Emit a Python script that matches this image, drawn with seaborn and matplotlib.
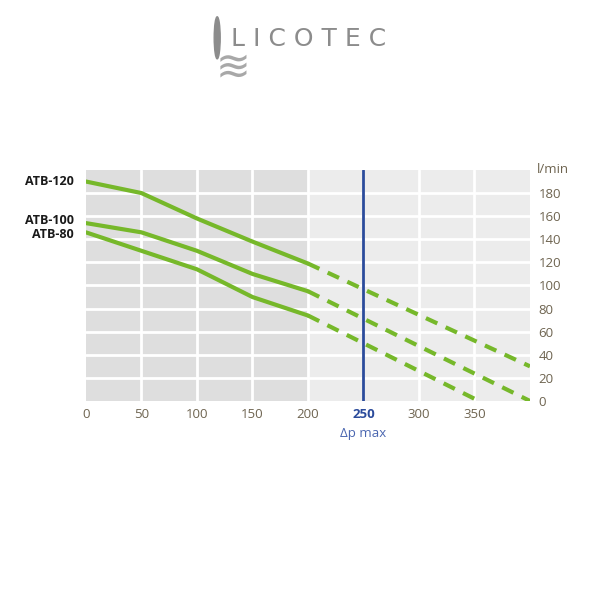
import numpy as np
import pandas as pd
import matplotlib
matplotlib.use('Agg')
import matplotlib.pyplot as plt
import seaborn as sns
from matplotlib.patches import Ellipse

# data
dp_measured = [0, 50, 100, 150, 200]
atb120 = [190, 180, 158, 138, 119]
atb100 = [154, 146, 130, 110, 95]
atb80 = [146, 130, 114, 90, 74]

dp_extrap = [200, 400]
atb120_ext = [119, 30]
atb100_ext = [95, 0]
dp80_extrap = [200, 354]
atb80_ext = [74, 0]

series_names = ['ATB-120', 'ATB-100', 'ATB-80']
label_y = [190, 156, 144]

x_ticks = [0, 50, 100, 150, 200, 250, 300, 350]
y_ticks = [0, 20, 40, 60, 80, 100, 120, 140, 160, 180]
dp_max = 250

green = '#76b82a'
blue = '#2b4b9b'
tick_col = '#6e6450'

sns.set_theme(style='white')
plt.rcParams['font.family'] = ['Open Sans', 'DejaVu Sans']

fig = plt.figure(figsize=(6, 6), dpi=100)
fig.patch.set_facecolor('white')
ax = fig.add_axes([0.1433, 0.3317, 0.74, 0.385])

# backgrounds: measured range darker, extrapolated range lighter
ax.axvspan(0, 200, color='#dedede', zorder=0, lw=0)
ax.axvspan(200, 400, color='#ececec', zorder=0, lw=0)
for xv in range(50, 400, 50):
    ax.axvline(xv, color='white', lw=2, zorder=1)
for yv in range(20, 200, 20):
    ax.axhline(yv, color='white', lw=2, zorder=1)

solid = pd.DataFrame({
    'dp': dp_measured * 3,
    'flow': atb120 + atb100 + atb80,
    'model': sum([[n] * len(dp_measured) for n in series_names], []),
})
sns.lineplot(data=solid, x='dp', y='flow', units='model', estimator=None,
             color=green, lw=3, ax=ax, zorder=3, legend=False)

for xs, ys in [(dp_extrap, atb120_ext), (dp_extrap, atb100_ext), (dp80_extrap, atb80_ext)]:
    sns.lineplot(x=xs, y=ys, color=green, lw=3, ax=ax, zorder=3,
                 linestyle=(0, (3, 2.2)))

ax.axvline(dp_max, color=blue, lw=2, zorder=4)

ax.set_xlim(0, 400)
ax.set_ylim(0, 200)
ax.set_xlabel('')
ax.set_ylabel('')
for s in ax.spines.values():
    s.set_visible(False)

ax.set_xticks(x_ticks)
ax.set_xticklabels([str(v) for v in x_ticks])
ax.tick_params(axis='x', length=0, labelsize=9.5, colors=tick_col, pad=5)
for lbl in ax.get_xticklabels():
    if lbl.get_text() == str(dp_max):
        lbl.set_color(blue)
        lbl.set_fontweight('bold')
ax.annotate('Δp max', xy=(dp_max, 0), xytext=(0, -19), textcoords='offset points',
            color='#4a66b0', fontsize=9.5, ha='center', va='top')

ax.yaxis.tick_right()
ax.set_yticks(y_ticks)
ax.set_yticklabels([str(v) for v in y_ticks])
ax.tick_params(axis='y', length=0, labelsize=9.5, colors=tick_col, pad=6)
ax.text(1.015, 1.0, 'l/min', transform=ax.transAxes, ha='left', va='center',
        fontsize=9.5, color=tick_col)

for name, yv in zip(series_names, label_y):
    ax.text(-11, yv, name, ha='right', va='center', fontsize=9,
            fontweight='bold', color='#1a1a1a')

# logo
fig.text(0.385, 0.935, 'L I C O T E C', ha='left', va='center', fontsize=18,
         color='#8c8c8c', family=['DejaVu Sans'])
fig.patches.append(Ellipse((0.362, 0.937), 0.010, 0.07, transform=fig.transFigure,
                           color='#8c8c8c', zorder=2))
fig.text(0.388, 0.887, '≋', ha='center', va='center', fontsize=30,
         color='#a8a8a8', family=['DejaVu Sans'])

fig.savefig('out.png', dpi=100)
